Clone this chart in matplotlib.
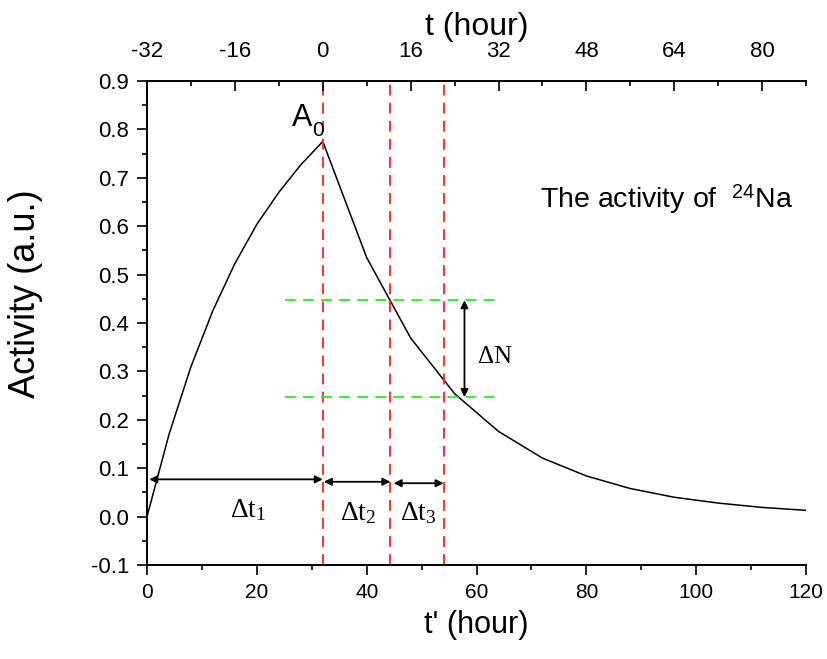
import matplotlib
matplotlib.use('Agg')
import matplotlib.pyplot as plt
from matplotlib.ticker import MultipleLocator, FormatStrFormatter

plt.rcParams['font.family'] = ['Liberation Sans', 'DejaVu Sans']
plt.rcParams['axes.unicode_minus'] = False
plt.rcParams['mathtext.fontset'] = 'custom'
plt.rcParams['mathtext.rm'] = 'Liberation Serif'
plt.rcParams['mathtext.it'] = 'Liberation Serif:italic'
plt.rcParams['mathtext.sf'] = 'Liberation Sans'

# 24Na activity: irradiation up to t' = 32 h, then decay
t_prime = [0, 4, 8, 12, 16, 20, 24, 28, 32, 40, 48, 56, 64, 72, 80, 88, 96, 104, 112, 120]
activity = [0.0, 0.17, 0.31, 0.426, 0.523, 0.604, 0.67, 0.727, 0.775, 0.535, 0.369,
            0.254, 0.176, 0.121, 0.084, 0.058, 0.040, 0.028, 0.019, 0.013]

# marker lines
t_marks = [32, 44.3, 54.0]          # red dashed verticals (t')
n_levels = [0.447, 0.247]           # green dashed levels
n_span = (25.1, 63.8)
t_offset = 32                       # t = t' - 32

fig = plt.figure(figsize=(8.27, 6.59), dpi=100)
ax = fig.add_axes([0.1778, 0.1426, 0.7969, 0.7345])

ax.plot(t_prime, activity, color='black', lw=1.1)

ax.vlines(t_marks, -0.1, 0.9, colors='#ff2020', linestyles=(0, (6, 4)), lw=1.3)
ax.hlines(n_levels, n_span[0], n_span[1], colors='#22ee22', linestyles=(0, (6, 4)), lw=1.3)

arrow = dict(arrowstyle='<|-|>', color='black', lw=1.3, mutation_scale=11,
             shrinkA=0, shrinkB=0)
ax.annotate('', xy=(t_marks[0], 0.077), xytext=(0.4, 0.077), arrowprops=arrow)
ax.annotate('', xy=(t_marks[1], 0.072), xytext=(t_marks[0] + 0.2, 0.072), arrowprops=arrow)
ax.annotate('', xy=(t_marks[2], 0.069), xytext=(t_marks[1] + 0.6, 0.069), arrowprops=arrow)
ax.annotate('', xy=(57.8, n_levels[1]), xytext=(57.8, n_levels[0]), arrowprops=arrow)

ax.text(15.1, 0.0, r'$\Delta\mathrm{t}_\mathrm{1}$', fontsize=20)
ax.text(35.2, -0.007, r'$\Delta\mathrm{t}_\mathrm{2}$', fontsize=20)
ax.text(46.0, -0.007, r'$\Delta\mathrm{t}_\mathrm{3}$', fontsize=20)
ax.text(60.0, 0.332, r'$\Delta\mathrm{N}$', fontsize=18, va='center')
ax.text(26.4, 0.806, 'A', fontsize=22)
ax.text(30.0, 0.787, '0', fontsize=15)
ax.text(71.5, 0.64, r'The activity of  $^\mathsf{24}$Na', fontsize=20.5)

ax.set_xlim(0, 120)
ax.set_ylim(-0.1, 0.9)
ax.xaxis.set_major_locator(MultipleLocator(20))
ax.xaxis.set_minor_locator(MultipleLocator(10))
ax.yaxis.set_major_locator(MultipleLocator(0.1))
ax.yaxis.set_minor_locator(MultipleLocator(0.05))
ax.yaxis.set_major_formatter(FormatStrFormatter('%.1f'))
ax.tick_params(which='major', direction='out', length=7, width=1.2, labelsize=15, pad=6,
               top=False, right=False)
ax.tick_params(which='minor', direction='out', length=3.5, width=1.2, top=False, right=False)
ax.tick_params(axis='y', labelsize=16)

ax.set_xlabel("t' (hour)", fontsize=22, labelpad=6)
ax.set_ylabel('Activity (a.u.)', fontsize=26)
ax.yaxis.set_label_coords(-0.158, 0.56)

ax2 = ax.twiny()
ax2.set_xlim(0 - t_offset, 120 - t_offset)
ax2.xaxis.set_major_locator(MultipleLocator(16))
ax2.xaxis.set_minor_locator(MultipleLocator(8))
ax2.tick_params(which='major', direction='in', length=7, width=1.2, labelsize=16, pad=14)
ax2.tick_params(which='minor', direction='in', length=3.5, width=1.2)
ax2.set_xlabel('t (hour)', fontsize=23, labelpad=4)

for a in (ax, ax2):
    a.spines['right'].set_visible(False)
    for s in ('left', 'top', 'bottom'):
        a.spines[s].set_linewidth(1.3)

fig.savefig('out.png', dpi=100)
